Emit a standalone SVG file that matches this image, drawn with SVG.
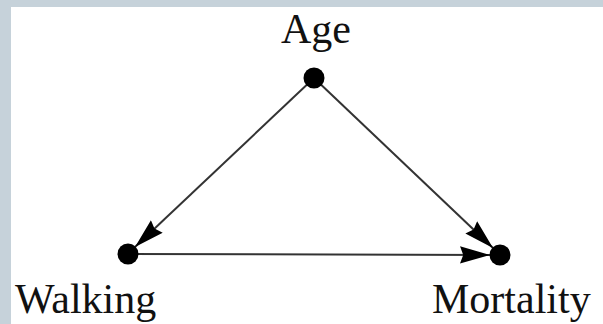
<svg xmlns="http://www.w3.org/2000/svg" width="603" height="324" viewBox="0 0 603 324">
<style>
.lbl{font-family:"Liberation Serif","Times New Roman",serif;font-size:42px;fill:#111}
.edge{stroke:#333;stroke-width:2;fill:none}
.dot{fill:#000}
</style>
<defs>
<marker id="ah" markerUnits="userSpaceOnUse" markerWidth="30" markerHeight="18" refX="28" refY="8" orient="auto" viewBox="0 0 28 16">
<path d="M0,0 L28,8 L0,16 L3,8 Z" fill="#000"/>
</marker>
</defs>
<rect width="603" height="324" fill="#c6d2da"/>
<rect x="11" y="7" width="592" height="317" fill="#fff"/>
<g id="connectors">
<line class="edge" x1="314" y1="78" x2="135" y2="247" marker-end="url(#ah)"/>
<line class="edge" x1="314" y1="78" x2="493" y2="248" marker-end="url(#ah)"/>
<line class="edge" x1="128" y1="254" x2="490" y2="255" marker-end="url(#ah)"/>
</g>
<g id="age">
<circle class="dot" cx="314" cy="78" r="10.5"/>
<text class="lbl" x="316" y="43" text-anchor="middle">Age</text>
</g>
<g id="walking">
<circle class="dot" cx="128" cy="254" r="10.5"/>
<text class="lbl" x="15" y="313">Walking</text>
</g>
<g id="mortality">
<circle class="dot" cx="500" cy="255" r="10.5"/>
<text class="lbl" x="432" y="313">Mortality</text>
</g>
</svg>
